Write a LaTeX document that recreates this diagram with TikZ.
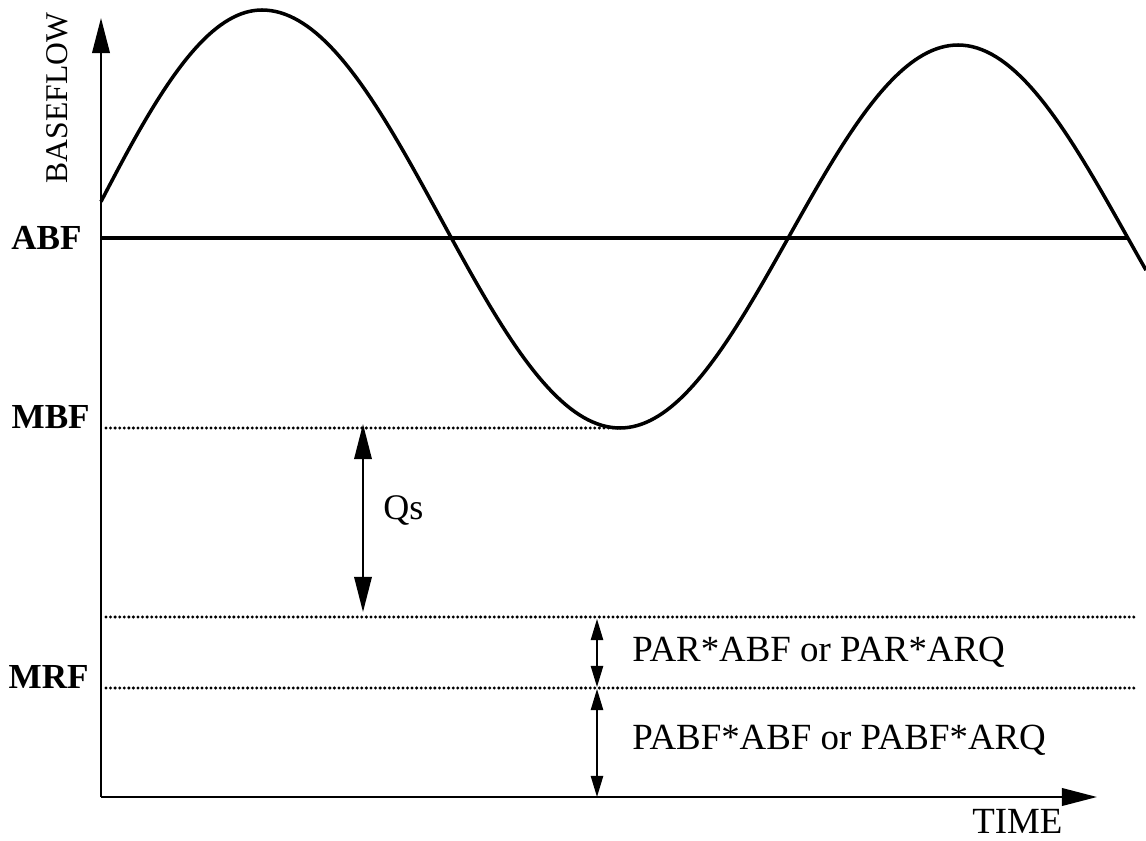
\documentclass[tikz,border=0pt]{standalone}
\usepackage{fontspec}
\setmainfont{Liberation Serif}
\usepackage{tikz}
\usetikzlibrary{arrows.meta, positioning, calc}

\begin{document}
\begin{tikzpicture}[x=0.02cm, y=-0.02cm, >=Stealth,
    axis/.style={line width=1.2pt, -{Triangle[length=20pt, width=10pt]}},
    levelline/.style={line width=2pt},
    dotline/.style={line width=1.9pt, line cap=round, dash pattern=on 0pt off 2.6pt},
    bigdim/.style={line width=0.9pt, {Triangle[length=20pt, width=10pt]}-{Triangle[length=20pt, width=10pt]}},
    smalldim/.style={line width=0.9pt, {Triangle[length=12pt, width=7pt]}-{Triangle[length=12pt, width=7pt]}},
    lbl/.style={inner sep=0pt, font=\fontsize{21}{25}\selectfont},
    blbl/.style={inner sep=0pt, font=\fontsize{20}{24}\selectfont\bfseries}]
        \useasboundingbox (0,0) rectangle (1146,841);
        % Axes
        \coordinate (o) at (101,797);
        \coordinate (ytop) at (101,18);
        \coordinate (xend) at (1097,797);
        \draw [axis] (o) -- (ytop);
        \draw [axis] (o) -- (xend);
        \node [lbl, rotate=90, font=\fontsize{18}{22}\selectfont] (yname) at (57,98) {BASEFLOW};
        \node [lbl, anchor=base west] (xname) at (972,833) {TIME};
        % Levels
        \coordinate (abfL) at (101,238);
        \coordinate (abfR) at (1128,238);
        \coordinate (mbfL) at (106,428);
        \coordinate (mbfR) at (618,428);
        \coordinate (parL) at (106,617);
        \coordinate (parR) at (1135,617);
        \coordinate (mrfL) at (106,688);
        \coordinate (mrfR) at (1135,688);
        \draw [levelline] (abfL) -- (abfR);
        \draw [dotline] (mbfL) -- (mbfR);
        \draw [dotline] (parL) -- (parR);
        \draw [dotline] (mrfL) -- (mrfR);
        \node [blbl, anchor=east] (abf) at (82,238) {ABF};
        \node [blbl, anchor=base east] (mbf) at (90,428) {MBF};
        \node [blbl, anchor=base east] (mrf) at (89,688) {MRF};
        % Baseflow curve
        \draw [line width=2pt, line join=round]
            plot [domain=101:262, samples=40] (\x, {219-209*cos((\x-262)/340*180)})
            -- plot [domain=262:620, samples=80] (\x, {219-209*cos((\x-262)/358*180)})
            -- plot [domain=620:958, samples=80] (\x, {236.5+191.5*cos((\x-620)/338*180)})
            -- plot [domain=958:1146, samples=40] (\x, {236.5-191.5*cos((\x-958)/338*180)});
        % Dimension arrows
        \coordinate (qsT) at (363,424);
        \coordinate (qsB) at (363,612);
        \coordinate (parT) at (597,619);
        \coordinate (parB) at (597,687);
        \coordinate (pabfT) at (597,689);
        \coordinate (pabfB) at (597,797);
        \draw [bigdim] (qsT) -- (qsB);
        \draw [smalldim] (parT) -- (parB);
        \draw [smalldim] (pabfT) -- (pabfB);
        \node [lbl, anchor=base west, font=\fontsize{20.5}{24}\selectfont] (qs) at (383,519) {Qs};
        \node [lbl, anchor=base west] (par) at (632,661) {PAR*ABF or PAR*ARQ};
        \node [lbl, anchor=base west] (pabf) at (632,749) {PABF*ABF or PABF*ARQ};
    \end{tikzpicture}
\end{document}
